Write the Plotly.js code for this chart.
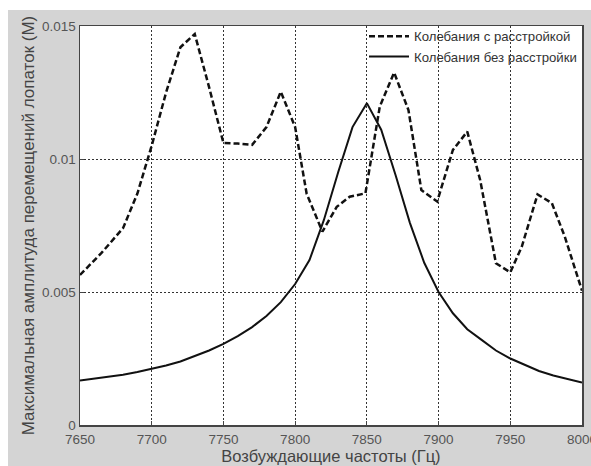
<!DOCTYPE html>
<html>
<head>
<meta charset="utf-8">
<script src="https://cdn.plot.ly/plotly-3.0.1.min.js"></script>
<style>
html,body{margin:0;padding:0;background:#fff;width:591px;height:466px;overflow:hidden;}
#plot{position:absolute;left:8px;top:10px;width:583px;height:456px;}
</style>
</head>
<body>
<div id="plot"></div>
<script>
// Dashed: with mistuning
const freqDetuned = [7650, 7665, 7680, 7690, 7700, 7710, 7720, 7730, 7740, 7750, 7760, 7770, 7780, 7790, 7800, 7808, 7819, 7829, 7838, 7849, 7859, 7869, 7879, 7888, 7899, 7910, 7920, 7929, 7940, 7950, 7958, 7969, 7979, 7988, 8000];
const ampDetuned  = [0.00564, 0.00647, 0.0074, 0.0087, 0.0105, 0.0125, 0.0142, 0.0147, 0.0127, 0.0106, 0.01058, 0.01053, 0.0112, 0.01253, 0.0112, 0.0087, 0.00727, 0.0082, 0.00858, 0.00871, 0.01197, 0.01325, 0.01184, 0.00883, 0.0084, 0.01034, 0.01103, 0.00921, 0.00608, 0.00574, 0.0067, 0.00867, 0.00834, 0.00708, 0.00505];
// Solid: without mistuning
const freqTuned = [7650, 7660, 7670, 7680, 7690, 7700, 7710, 7720, 7730, 7740, 7750, 7760, 7770, 7780, 7790, 7800, 7810, 7820, 7830, 7840, 7850, 7860, 7870, 7880, 7890, 7900, 7910, 7920, 7930, 7940, 7950, 7960, 7970, 7980, 7990, 8000];
const ampTuned  = [0.00167, 0.00174, 0.00181, 0.00189, 0.00199, 0.00211, 0.00224, 0.00239, 0.00258, 0.0028, 0.00305, 0.00334, 0.00368, 0.0041, 0.00462, 0.0053, 0.0062, 0.0077, 0.0095, 0.0112, 0.0121, 0.0111, 0.0094, 0.0076, 0.0061, 0.0050, 0.0042, 0.0036, 0.0032, 0.0028, 0.0025, 0.00225, 0.00203, 0.00186, 0.00172, 0.0016];

const xTicks = [7650, 7700, 7750, 7800, 7850, 7900, 7950, 8000];
const yTicks = [0, 0.005, 0.01, 0.015];
const yTickText = ['0', '0.005', '0.01', '0.015'];
const nameDetuned = 'Колебания с расстройкой';
const nameTuned = 'Колебания без расстройки';
const xTitle = 'Возбуждающие частоты (Гц)';
const yTitle = 'Максимальная амплитуда перемещений лопаток (М)';

const font = 'Liberation Sans, Arial, sans-serif';

const traces = [
  {x: freqDetuned, y: ampDetuned, name: nameDetuned, mode: 'lines', type: 'scatter',
   line: {color: '#111', width: 2.5, dash: '6px,3px'}},
  {x: freqTuned, y: ampTuned, name: nameTuned, mode: 'lines', type: 'scatter',
   line: {color: '#111', width: 2}}
];

const axisCommon = {
  showline: true, mirror: true, linecolor: '#444', linewidth: 1.5,
  ticks: 'inside', ticklen: 4, tickcolor: '#444',
  showgrid: true, gridcolor: '#333', gridwidth: 1, griddash: '2px,2px',
  zeroline: false, ticklabeloverflow: 'allow',
  tickfont: {family: font, size: 13.5, color: '#555'}
};

const layout = {
  width: 583, height: 456,
  paper_bgcolor: '#d4d4d4', plot_bgcolor: '#ffffff',
  margin: {l: 72, r: 9, t: 16, b: 41},
  showlegend: true,
  legend: {x: 1, xanchor: 'right', y: 1.012, yanchor: 'top', bgcolor: 'rgba(255,255,255,0)',
           font: {family: font, size: 13.2, color: '#333'}, tracegroupgap: 0, itemwidth: 40},
  xaxis: Object.assign({}, axisCommon, {
    range: [7650, 8000], tickvals: xTicks, ticklabelstandoff: 1,
    title: {text: xTitle, font: {family: font, size: 16.5, color: '#444'}, standoff: 3}
  }),
  yaxis: Object.assign({}, axisCommon, {
    range: [0, 0.015], tickvals: yTicks, ticktext: yTickText,
    title: {text: yTitle, font: {family: font, size: 17, color: '#444'}, standoff: 3}
  })
};

Plotly.newPlot('plot', traces, layout, {displayModeBar: false, staticPlot: true});
</script>
</body>
</html>
